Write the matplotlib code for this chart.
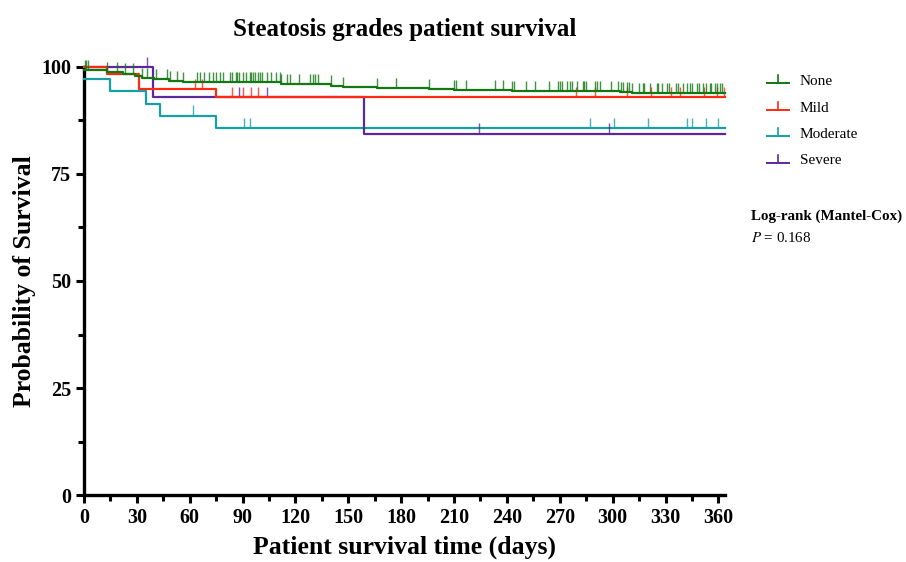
import matplotlib
matplotlib.use("Agg")
import matplotlib.pyplot as plt
from matplotlib.lines import Line2D
import numpy as np

plt.rcParams['font.family'] = ['Liberation Serif', 'DejaVu Serif']
plt.rcParams['mathtext.fontset'] = 'stix'

groups = ["None", "Mild", "Moderate", "Severe"]
colors = ["#127812", "#ff2a12", "#14a0a5", "#5a2a9a"]

# step curves: event times (days) and survival (%) after each step
none_t = [0, 13, 22, 29, 33, 40, 48, 56, 112, 140, 147, 166, 196, 210, 243, 304, 311]
none_s = [99.3, 98.8, 98.4, 97.9, 97.4, 97.1, 96.7, 96.4, 95.9, 95.6, 95.3, 95.1, 94.8, 94.6, 94.4, 94.1, 93.9]
mild_t = [0, 13, 31, 75]
mild_s = [100, 98.3, 94.8, 93.0]
moderate_t = [0, 15, 35, 43, 75]
moderate_s = [97.1, 94.3, 91.4, 88.6, 85.7]
severe_t = [0, 39, 159]
severe_s = [100, 92.9, 84.4]

# censored observations
none_c = [0.5, 1, 2, 13, 19, 23, 28, 33, 36, 41, 47, 49, 53, 56,
          64, 66, 68, 71, 73, 75, 77, 79, 83, 84, 86, 87, 88, 90, 92, 94, 95, 96, 97, 99,
          100, 101, 104, 106, 109, 111, 112, 115, 117, 122, 128, 130, 131, 133, 140, 147,
          166, 177, 196, 210, 211, 217, 233, 238, 243, 244, 251, 256, 264, 269, 270, 271,
          274, 276, 277, 280, 283, 284, 285, 290, 291, 293, 299, 303, 305, 306, 308, 309,
          311, 315, 317, 318, 321, 325, 326, 328, 331, 332, 336, 337, 340, 342, 344, 345,
          348, 349, 351, 353, 355, 356, 358, 359, 361, 362]
mild_c = [63, 67, 84, 90, 95, 99, 279, 290, 308, 322, 333, 338, 352, 359, 363]
moderate_c = [62, 91, 94, 287, 301, 320, 342, 345, 353, 360]
severe_c = [36, 88, 104, 224, 298]

x_end = 364
x_ticks = list(range(0, 361, 30))
y_ticks = [0, 25, 50, 75, 100]

fig = plt.figure(figsize=(9.06, 5.62), dpi=100)
ax = fig.add_axes([0.0927, 0.119, 0.708, 0.762])

series = [
    (moderate_t, moderate_s, moderate_c, colors[2]),
    (severe_t, severe_s, severe_c, colors[3]),
    (mild_t, mild_s, mild_c, colors[1]),
    (none_t, none_s, none_c, colors[0]),
]
for t, s, c, col in series:
    tt = np.array(t + [x_end], dtype=float)
    ss = np.array(s + [s[-1]], dtype=float)
    ax.step(tt, ss, where="post", color=col, lw=1.6, clip_on=False, zorder=3)
    idx = np.searchsorted(np.array(t, dtype=float), c, side="right") - 1
    lev = np.array(s)[idx]
    ax.vlines(c, lev, lev + 2.4, color=col, lw=1.0, alpha=0.8, clip_on=False, zorder=3)

ax.set_xlim(0, x_end)
ax.set_ylim(0, 100)
ax.spines["top"].set_visible(False)
ax.spines["right"].set_visible(False)
for sp in ("left", "bottom"):
    ax.spines[sp].set_linewidth(2.4)

ax.set_xticks(x_ticks)
ax.set_xticks(np.arange(15, 361, 30), minor=True)
ax.set_yticks(y_ticks)
ax.set_yticks([12.5, 37.5, 62.5, 87.5], minor=True)
ax.tick_params(which="major", length=6, width=2.2, labelsize=14.5, direction="out", pad=3)
ax.tick_params(which="minor", length=4, width=2.2, direction="out")
for lbl in ax.get_xticklabels() + ax.get_yticklabels():
    lbl.set_fontweight("bold")

ax.set_xlabel("Patient survival time (days)", fontsize=18.5, fontweight="bold", labelpad=6)
ax.set_ylabel("Probability of Survival", fontsize=18.5, fontweight="bold", labelpad=4)
fig.text(0.447, 0.948, "Steatosis grades patient survival", ha="center", va="center",
         fontsize=18, fontweight="bold")

# legend drawn by hand: line with an upward censor tick
W, H = 906, 562
for i, (name, col) in enumerate(zip(groups, colors)):
    y = 1 - (83 + 26.5 * i) / H
    fig.add_artist(Line2D([767 / W, 789 / W], [y, y], color=col, lw=1.4))
    fig.add_artist(Line2D([778 / W, 778 / W], [y, y + 8 / H], color=col, lw=1.2))
    fig.text(800 / W, y + 1.5 / H, name, ha="left", va="center", fontsize=11)

fig.text(751 / W, 1 - 216 / H, "Log-rank (Mantel-Cox)", ha="left", va="center",
         fontsize=10.8, fontweight="bold")
fig.text(751 / W, 1 - 238 / H, r"$P$ = 0.168", ha="left", va="center", fontsize=10.8)

fig.savefig("out.png", dpi=100)
